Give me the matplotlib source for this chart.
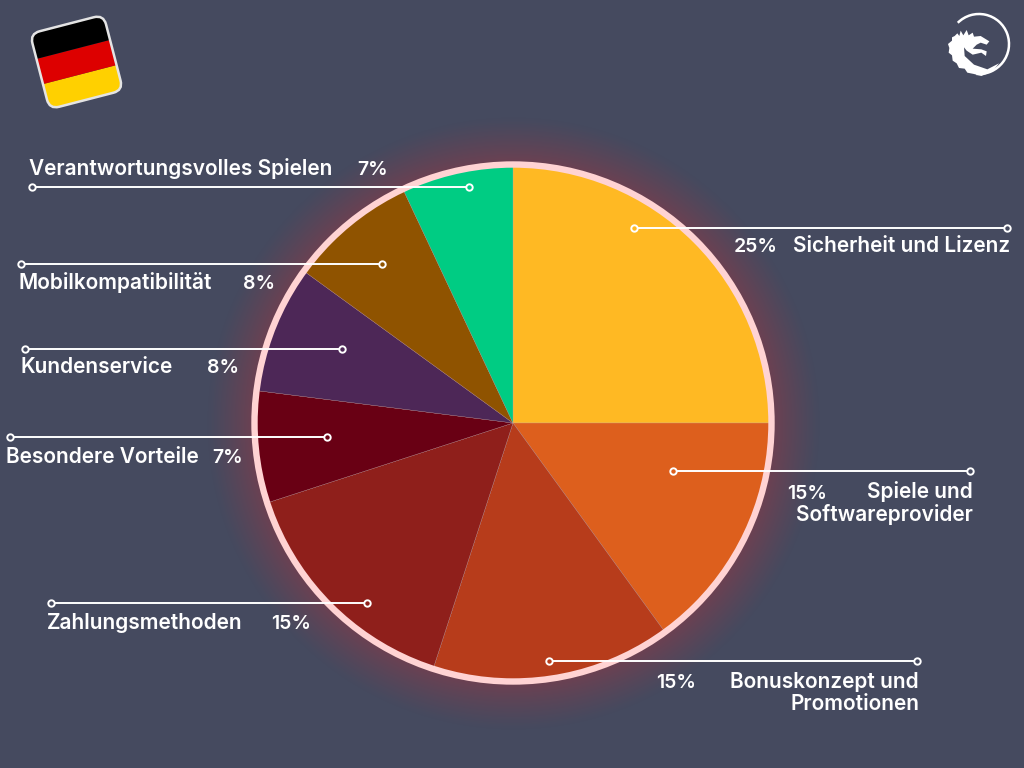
import numpy as np
import matplotlib
matplotlib.use("Agg")
import matplotlib.pyplot as plt
from matplotlib.patches import FancyBboxPatch, Rectangle, Circle, Polygon, Arc
from matplotlib.transforms import Affine2D

W, H = 1024, 768
BG = "#454a5f"

# data
categories = ["Sicherheit und Lizenz", "Spiele und\nSoftwareprovider", "Bonuskonzept und\nPromotionen",
              "Zahlungsmethoden", "Besondere Vorteile", "Kundenservice",
              "Mobilkompatibilität", "Verantwortungsvolles Spielen"]
values = [25, 15, 15, 15, 7, 8, 8, 7]
colors = ["#ffb923", "#dd5f1d", "#b73c1b", "#8f1f1b", "#690014", "#4d2757", "#8f5300", "#00cc83"]

# leader lines: inner end, outer end, y
line_inner = [634, 673, 549, 367, 327, 342, 382, 469]
line_outer = [1007, 970, 917, 51, 10, 25, 21, 32]
line_y = [228, 471, 661, 603, 437, 349, 264, 187]
# text anchors: label x, label baseline (last line), pct x, pct baseline
label_x = [1010, 973, 919, 47, 6, 21, 18, 29]
label_y = [252, 521, 710, 629, 463, 373, 289, 175]
pct_x = [734, 787, 656, 271, 212, 207, 243, 357]
pct_y = [252, 499, 688, 629, 463, 373, 289, 175]
right_side = [True, True, True, False, False, False, False, False]

plt.rcParams["font.family"] = ["Inter", "DejaVu Sans"]
fig = plt.figure(figsize=(W / 100, H / 100), dpi=100, facecolor=BG)
ax = fig.add_axes([0, 0, 1, 1])
ax.set_facecolor(BG)


def py(y):
    return H - y


# glow behind the pie
cx, cy, r = 513, 423, 257
xx, yy = np.meshgrid(np.arange(W), np.arange(H))
dist = np.hypot(xx - cx, yy - cy)
glow = np.zeros((H, W, 4))
glow[..., :3] = matplotlib.colors.to_rgb("#8a3a48")
glow[..., 3] = np.clip(1 - (dist - r) / 50, 0, 1) ** 1.2 * 0.62
ax.imshow(glow, extent=(0, W, 0, H), origin="upper", zorder=1, aspect="auto")

wedges, _ = ax.pie(values, colors=colors, startangle=90, counterclock=False, radius=r,
                   center=(cx, py(cy)), frame=True,
                   wedgeprops={"linewidth": 0.2, "edgecolor": "#c9a9a9"})
for w in wedges:
    w.set_zorder(2)
ax.add_patch(Circle((cx, py(cy)), r + 1.5, fill=False, ec="#ffd3d3", lw=4.6, zorder=3))

ax.set_xlim(0, W)
ax.set_ylim(0, H)
ax.set_axis_off()

# leader lines and labels
for i, cat in enumerate(categories):
    y = py(line_y[i])
    sign = 1 if line_outer[i] > line_inner[i] else -1
    ax.plot([line_inner[i] + sign * 3.5, line_outer[i] - sign * 3.5], [y, y], color="white", lw=1.4, zorder=4,
            solid_capstyle="butt")
    ax.plot([line_inner[i], line_outer[i]], [y, y], ls="none", marker="o", ms=4.6, mfc="none",
            mec="white", mew=1.4, zorder=5)
    ha = "right" if right_side[i] else "left"
    ax.text(label_x[i], py(label_y[i]), cat, color="white", fontsize=15, fontweight="semibold",
            ha=ha, va="baseline", linespacing=1.12, multialignment=ha, zorder=6)
    ax.text(pct_x[i], py(pct_y[i]), f"{values[i]}%", color="white", fontsize=14, fontweight="semibold",
            ha="left", va="baseline", zorder=6)

# flag
flag_rot = Affine2D().rotate_deg_around(76.5, py(62), 14.5) + ax.transData
fx, fy, fw, fh = 38.5, py(101), 76, 78
border = FancyBboxPatch((fx, fy), fw, fh, boxstyle="round,pad=0,rounding_size=10", fc="none", ec="#e4e4e4",
                        lw=1.8, transform=flag_rot, zorder=7)
clip = FancyBboxPatch((fx, fy), fw, fh, boxstyle="round,pad=0,rounding_size=10", fc="none", ec="none",
                      transform=flag_rot)
ax.add_patch(clip)
for k, c in enumerate(["#ffd000", "#dd0000", "#000000"]):
    s = Rectangle((fx, fy + k * fh / 3), fw, fh / 3, fc=c, ec="none", transform=flag_rot, zorder=6.5)
    ax.add_patch(s)
    s.set_clip_path(clip)
ax.add_patch(border)

# logo, rough dragon shape (points read from a 3x crop at x offset 924)
ax.add_patch(Arc((979, py(44)), 60, 60, theta1=-95, theta2=135, color="white", lw=1.8, zorder=6))
body = [(92, 108), (100, 100), (106, 108), (110, 92), (118, 106), (128, 90), (134, 106), (146, 98), (150, 110),
        (170, 108), (196, 124), (188, 134), (170, 128), (158, 134), (146, 146), (172, 148), (188, 154), (186, 168),
        (172, 158), (146, 164), (128, 152), (120, 142), (122, 168), (150, 194), (190, 208), (225, 190), (205, 215),
        (172, 228), (150, 222), (130, 218), (122, 206), (105, 204), (98, 190), (86, 182), (84, 166), (74, 158),
        (76, 144), (72, 132), (84, 122), (84, 112)]
ax.add_patch(Polygon([(924 + x / 3, py(y / 3)) for x, y in body], closed=True, fc="white", ec="none", zorder=6))

fig.savefig("out.png", dpi=100, facecolor=BG)
